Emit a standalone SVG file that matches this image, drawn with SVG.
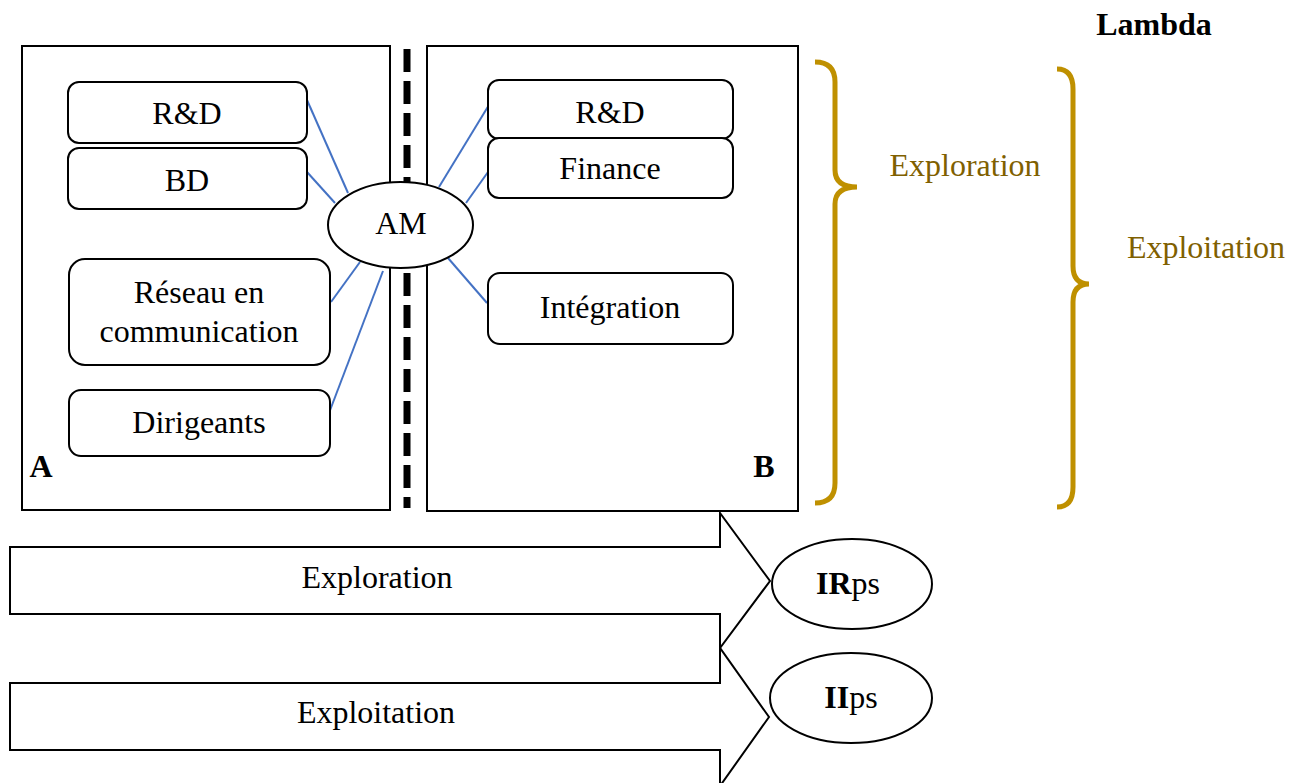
<svg xmlns="http://www.w3.org/2000/svg" width="1301" height="783" viewBox="0 0 1301 783">
<defs>
<style>
.t{font-family:"Liberation Serif","Times New Roman",serif;font-size:32px;fill:#000;text-anchor:middle}
.b{font-weight:bold}
.box{fill:#fff;stroke:#000;stroke-width:2}
.rr{fill:#fff;stroke:#000;stroke-width:2}
.ln{stroke:#4472C4;stroke-width:2;fill:none}
.br{fill:none;stroke:#BF9000;stroke-width:5;stroke-linecap:butt}
.g{fill:#7F6000}
</style>
</defs>
<rect width="1301" height="783" fill="#fff"/>
<g id="boxA"><rect class="box" x="22" y="46" width="368" height="464"/><text class="t b" x="41" y="477" font-size="33">A</text></g>
<g id="boxB"><rect class="box" x="427" y="46" width="371" height="465"/><text class="t b" x="764" y="477" font-size="33">B</text></g>
<g id="divider"><line x1="407" y1="49" x2="407" y2="508" stroke="#000" stroke-width="7" stroke-dasharray="23,9"/></g>
<g id="connectors">
<line class="ln" x1="307" y1="100" x2="348" y2="193"/>
<line class="ln" x1="307" y1="172" x2="335" y2="203"/>
<line class="ln" x1="331" y1="302" x2="360" y2="262"/>
<line class="ln" x1="329" y1="413" x2="383" y2="271"/>
<line class="ln" x1="492" y1="100" x2="439" y2="187"/>
<line class="ln" x1="488" y1="172" x2="466" y2="203"/>
<line class="ln" x1="448" y1="258" x2="487" y2="303"/>
</g>
<g id="rd-a"><rect class="rr" x="68" y="82" width="239" height="61" rx="11"/><text class="t" x="187" y="124">R&amp;D</text></g>
<g id="bd-a"><rect class="rr" x="68" y="148" width="239" height="61" rx="11"/><text class="t" x="187" y="191">BD</text></g>
<g id="reseau"><rect class="rr" x="69" y="259" width="261" height="106" rx="16"/><text class="t" x="199" y="303">Réseau en</text><text class="t" x="199" y="342">communication</text></g>
<g id="dirigeants"><rect class="rr" x="69" y="390" width="261" height="66" rx="12"/><text class="t" x="199" y="433">Dirigeants</text></g>
<g id="am"><ellipse cx="400.5" cy="225" rx="72.5" ry="43" fill="#fff" stroke="#000" stroke-width="2"/><text class="t" x="401" y="234">AM</text></g>
<g id="rd-b"><rect class="rr" x="488" y="80" width="245" height="59" rx="11"/><text class="t" x="610" y="123">R&amp;D</text></g>
<g id="finance"><rect class="rr" x="488" y="138" width="245" height="60" rx="11"/><text class="t" x="610" y="179">Finance</text></g>
<g id="integration"><rect class="rr" x="488" y="273" width="245" height="71" rx="12"/><text class="t" x="610" y="318">Intégration</text></g>
<g id="lambda"><text class="t b" x="1154" y="35">Lambda</text></g>
<g id="brace-exploration"><path class="br" d="M815,62 Q835,62 835,82 L835,170 Q835,187 857,187 Q835,187 835,204 L835,483 Q835,503 815,503"/><text class="t g" x="965" y="176">Exploration</text></g>
<g id="brace-exploitation"><path class="br" d="M1057,69 Q1073,69 1073,89 L1073,266 Q1073,284 1089,284 Q1073,284 1073,302 L1073,487 Q1073,507 1057,507"/><text class="t g" x="1206" y="258">Exploitation</text></g>
<g id="arrow-exploration"><polygon class="box" points="10,547 720,547 720,513 770,581 720,648 720,614 10,614"/><text class="t" x="377" y="588">Exploration</text></g>
<g id="arrow-exploitation"><polygon class="box" points="10,683 720,683 720,648 769,717 720,786 720,750 10,750"/><text class="t" x="376" y="723">Exploitation</text></g>
<g id="irps"><ellipse cx="852" cy="584" rx="80" ry="45" fill="#fff" stroke="#000" stroke-width="2"/><text class="t" x="848" y="594"><tspan font-weight="bold">IR</tspan>ps</text></g>
<g id="iips"><ellipse cx="851" cy="698" rx="81" ry="45" fill="#fff" stroke="#000" stroke-width="2"/><text class="t" x="851" y="708"><tspan font-weight="bold">II</tspan>ps</text></g>
</svg>
